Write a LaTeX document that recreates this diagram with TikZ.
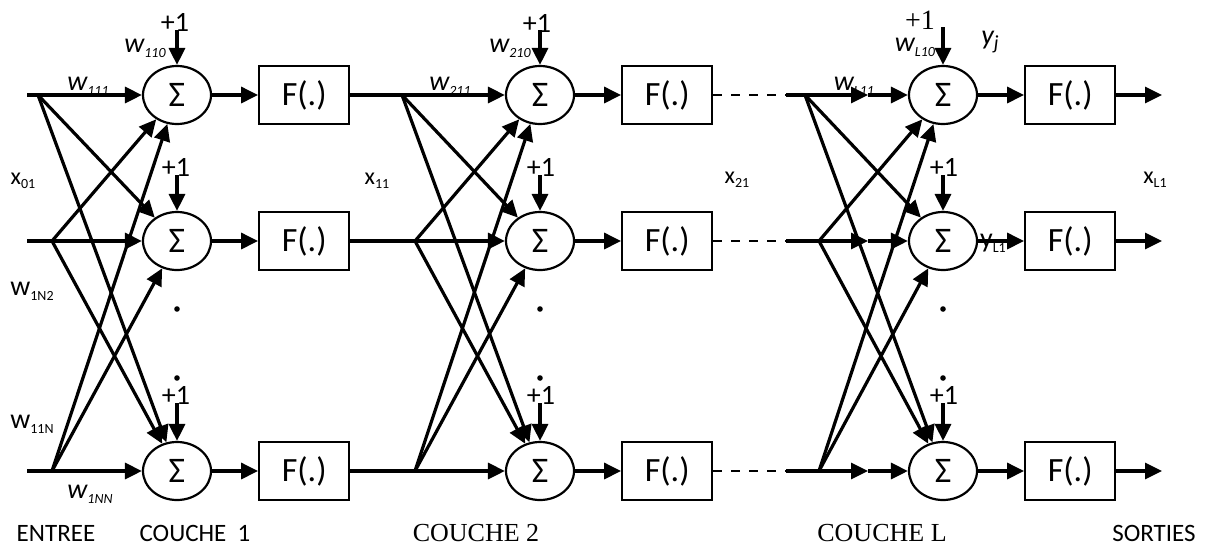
\documentclass[tikz,border=0pt]{standalone}
\usepackage{fontspec}
\setmainfont{Carlito}
\newfontfamily\timesfont{Liberation Serif}
\usetikzlibrary{arrows.meta,positioning,shapes.geometric}
\newcommand{\idx}[1]{\raisebox{-0.35ex}{\fontsize{7}{7}\selectfont #1}}

\begin{document}
\begin{tikzpicture}[x=0.5pt, y=-0.5pt,
    every node/.style={inner sep=0pt},
    sum/.style={draw, ellipse, line width=1.1pt, minimum width=34pt, minimum height=29pt, font=\fontsize{18}{18}\selectfont},
    func/.style={draw, line width=1.1pt, minimum width=45pt, minimum height=29pt, font=\fontsize{17}{17}\selectfont},
    arr/.style={-{Triangle[length=8.5pt,width=8pt]}, line width=1.6pt},
    wire/.style={line width=1.6pt},
    dashwire/.style={line width=1.3pt, dash pattern=on 4.5pt off 4.5pt},
    lbl/.style={font=\fontsize{12}{12}\selectfont},
    wlbl/.style={font=\fontsize{14}{14}\selectfont},
    title/.style={font=\fontsize{12.5}{12.5}\selectfont},
    ttitle/.style={font=\timesfont\fontsize{13}{13}\selectfont}]
    \useasboundingbox (0,0) rectangle (1205,547);

    % couche 1
    \node[sum] (s11) at (177,95) {Σ};
    \node[sum] (s12) at (177,241) {Σ};
    \node[sum] (s13) at (177,471) {Σ};
    \node[func, right=23pt of s11] (f11) {F(.)};
    \node[func, right=23pt of s12] (f12) {F(.)};
    \node[func, right=23pt of s13] (f13) {F(.)};
    % couche 2
    \node[sum] (s21) at (540,95) {Σ};
    \node[sum] (s22) at (540,241) {Σ};
    \node[sum] (s23) at (540,471) {Σ};
    \node[func, right=23pt of s21] (f21) {F(.)};
    \node[func, right=23pt of s22] (f22) {F(.)};
    \node[func, right=23pt of s23] (f23) {F(.)};
    % couche L
    \node[sum] (sL1) at (943,95) {Σ};
    \node[sum] (sL2) at (943,241) {Σ};
    \node[sum] (sL3) at (943,471) {Σ};
    \node[func, right=23pt of sL1] (fL1) {F(.)};
    \node[func, right=23pt of sL2] (fL2) {F(.)};
    \node[func, right=23pt of sL3] (fL3) {F(.)};

    % entrees et points de branchement
    \coordinate (in11) at (27,95);  \coordinate (b11) at (38,95);
    \coordinate (in12) at (27,241); \coordinate (b12) at (52,241);
    \coordinate (in13) at (27,471); \coordinate (b13) at (52,471);
    \coordinate (b21) at (402,95);
    \coordinate (b22) at (415,241);
    \coordinate (b23) at (415,471);
    \coordinate (inL1) at (786,95);  \coordinate (bL1) at (805,95);  \coordinate (mL1) at (868,95);
    \coordinate (inL2) at (786,241); \coordinate (bL2) at (819,241); \coordinate (mL2) at (868,241);
    \coordinate (inL3) at (786,471); \coordinate (bL3) at (819,471); \coordinate (mL3) at (868,471);
    \coordinate (oL1) at (1162,95);
    \coordinate (oL2) at (1162,241);
    \coordinate (oL3) at (1162,471);

    \foreach \r in {1,2,3} {
      \draw[wire] (in1\r) -- (b1\r);
      \draw[wire] (f1\r.east) -- (b2\r);
      \draw[dashwire] (f2\r.east) -- (inL\r);
      \draw[wire] (inL\r) -- (bL\r);
      \draw[arr] (b1\r) -- (s1\r);
      \draw[arr] (b2\r) -- (s2\r);
      \draw[arr] (bL\r) -- (mL\r);
      \draw[arr] (mL\r) -- (sL\r);
      \draw[arr] (s1\r) -- (f1\r);
      \draw[arr] (s2\r) -- (f2\r);
      \draw[arr] (sL\r) -- (fL\r);
      \draw[arr] (fL\r) -- (oL\r);
    }
    \foreach \c in {1,2,L}
      \foreach \a/\b in {1/2,1/3,2/1,2/3,3/1,3/2}
        \draw[arr] (b\c\a) -- (s\c\b);

    % biais +1
    \node[wlbl] (p11) at (175,22) {+1};
    \node[wlbl] (p12) at (176,167) {+1};
    \node[wlbl] (p13) at (176,395) {+1};
    \node[wlbl] (p21) at (537,23) {+1};
    \node[wlbl] (p22) at (541,167) {+1};
    \node[wlbl] (p23) at (541,395) {+1};
    \node[font=\timesfont\fontsize{14}{14}\selectfont] (pL1) at (920,20) {+1};
    \node[wlbl] (pL2) at (944,167) {+1};
    \node[wlbl] (pL3) at (944,395) {+1};
    \coordinate (t11) at (177,30);  \coordinate (t12) at (177,175); \coordinate (t13) at (177,403);
    \coordinate (t21) at (540,30);  \coordinate (t22) at (540,175); \coordinate (t23) at (540,403);
    \coordinate (tL1) at (943,27);  \coordinate (tL2) at (943,175); \coordinate (tL3) at (943,403);
    \foreach \c in {1,2,L}
      \foreach \r in {1,2,3}
        \draw[arr] (t\c\r) -- (s\c\r);

    % points de suspension
    \foreach \c/\px in {1/177,2/540,L/943} {
      \fill (\px,309) circle (1.4pt);
      \fill (\px,378) circle (1.4pt);
    }

    % poids et signaux
    \node[wlbl] (w110) at (145,48) {\itshape w\idx{110}};
    \node[wlbl] (w111) at (88,86) {\itshape w\idx{111}};
    \node[wlbl] (w210) at (510,48) {\itshape w\idx{210}};
    \node[wlbl] (w211) at (450,86) {\itshape w\idx{211}};
    \node[wlbl] (wL10) at (915,47) {\itshape w\idx{L10}};
    \node[wlbl] (wL11) at (854,86) {\itshape w\idx{L11}};
    \node[wlbl] (yj) at (990,42) {\itshape y\raisebox{-0.35ex}{\fontsize{10}{10}\selectfont j}};
    \node[wlbl] (yL1) at (993,243) {y\idx{L1}};
    \node[wlbl] (w1N2) at (32,291) {w\idx{1N2}};
    \node[wlbl] (w11N) at (32,424) {w\idx{11N}};
    \node[wlbl] (w1NN) at (90,494) {\itshape w\idx{1NN}};
    \node[lbl] (x01) at (23,181) {x\idx{01}};
    \node[lbl] (x11) at (377,181) {x\idx{11}};
    \node[lbl] (x21) at (737,180) {x\idx{21}};
    \node[lbl] (xL1) at (1155,180) {x\idx{L1}};

    % titres
    \node[title] (entree) at (56,533) {ENTREE};
    \node[title] (couche1) at (195,533) {COUCHE\ \ 1};
    \node[ttitle] (couche2) at (476,533) {COUCHE 2};
    \node[ttitle] (coucheL) at (882,533) {COUCHE L};
    \node[title] (sorties) at (1154,533) {SORTIES};
  \end{tikzpicture}
\end{document}
